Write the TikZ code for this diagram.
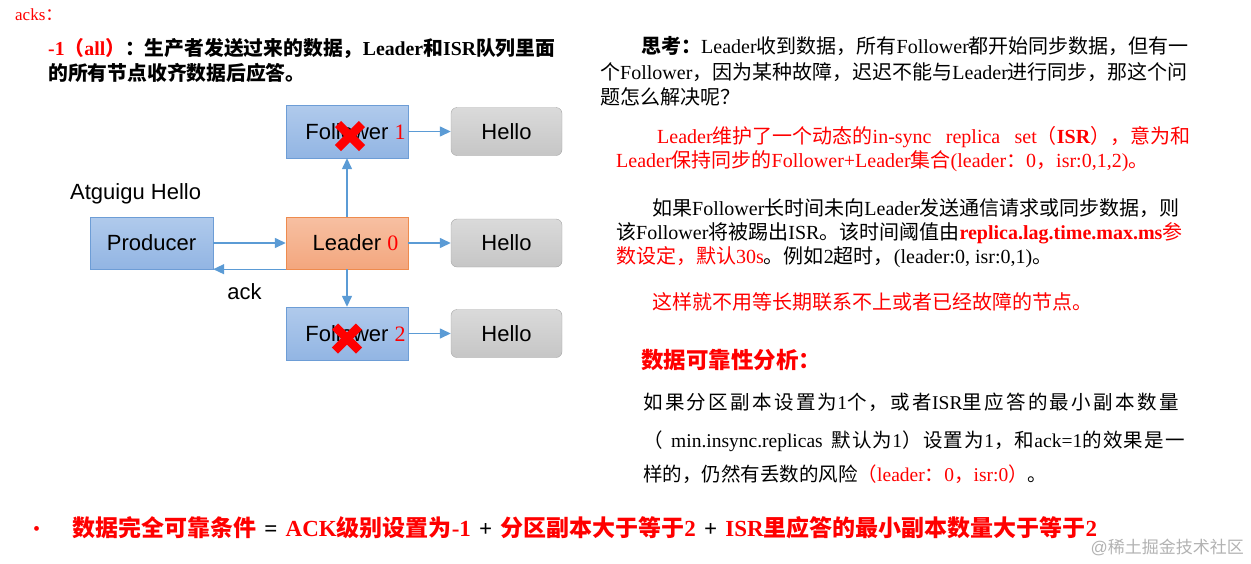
\documentclass[tikz,border=0pt]{standalone}
\usepackage{fontspec}
\setmainfont{Liberation Serif}
\setsansfont{Liberation Sans}
\newfontfamily\zhfont{Noto Sans CJK SC}
\newfontfamily\zhwide{Noto Sans CJK SC}[LetterSpace=12]
\newfontfamily\zhmid{Noto Sans CJK SC}[LetterSpace=7]
\usetikzlibrary{positioning, arrows.meta}

\definecolor{kred}{HTML}{FF0000}
\definecolor{linkblue}{HTML}{5B9BD5}
\definecolor{boxline}{HTML}{6D9DD6}
\definecolor{leadline}{HTML}{EE8B4E}
\definecolor{helloline}{HTML}{A5A5A5}

% CJK characters get their own font
\XeTeXinterchartokenstate=1
\newXeTeXintercharclass\zhclass
\count255="3000
\loop\ifnum\count255<"3040 \XeTeXcharclass\count255=\zhclass \advance\count255 by 1 \repeat
\count255="4E00
\loop\ifnum\count255<"A000 \XeTeXcharclass\count255=\zhclass \advance\count255 by 1 \repeat
\count255="FF00
\loop\ifnum\count255<"FFF0 \XeTeXcharclass\count255=\zhclass \advance\count255 by 1 \repeat
\XeTeXinterchartoks 0 \zhclass = {\begingroup\zhfont}
\XeTeXinterchartoks 4095 \zhclass = {\begingroup\zhfont}
\XeTeXinterchartoks \zhclass 0 = {\endgroup}
\XeTeXinterchartoks \zhclass 4095 = {\endgroup}

\newcommand\jline[2]{\makebox[#1][s]{#2}}
\newcommand\wideline[3]{{\let\zhfont#1\makebox[#2][s]{#3}}}

\begin{document}
\begin{tikzpicture}[x=1pt, y=-1pt,
    txt/.style={anchor=base west, inner sep=0pt, font=\fontsize{20}{24}\selectfont},
    lab/.style={font=\sffamily\fontsize{22}{26}\selectfont, inner sep=0pt},
    bluebox/.style={lab, draw=boxline, top color={rgb,255:red,176;green,202;blue,236}, bottom color={rgb,255:red,146;green,181;blue,227}, minimum width=122pt, minimum height=53pt},
    leadbox/.style={lab, draw=leadline, top color={rgb,255:red,247;green,192;blue,162}, bottom color={rgb,255:red,243;green,166;blue,126}, minimum width=122pt, minimum height=52pt},
    hellobox/.style={lab, draw=helloline, rounded corners=6pt, top color={rgb,255:red,218;green,218;blue,218}, bottom color={rgb,255:red,198;green,198;blue,198}, minimum width=111pt, minimum height=48pt},
    padl/.style={execute at begin node=\hspace*{17pt}},
    flow/.style={draw=linkblue, line width=1.4pt, -{Triangle[length=11pt, width=10pt]}},
    xmark/.style={draw=kred, line width=8.5pt}
  ]
  \useasboundingbox (0,0) rectangle (1251,563);

  % left part
  \node[txt, text=kred, font=\fontsize{17}{20}\selectfont] (acks) at (15,20) {acks：};
  \node[txt, font=\bfseries\fontsize{19.8}{24}\selectfont] (allA) at (48,55) {\jline{514pt}{{\color{kred}-1（all）}：生产者发送过来的数据，Leader和ISR队列里面}};
  \node[txt, font=\bfseries\fontsize{19.8}{24}\selectfont] (allB) at (48,80) {的所有节点收齐数据后应答。};

  \node[lab, anchor=base west] (atg) at (70,199) {Atguigu Hello};
  \node[bluebox, minimum width=123pt, minimum height=52pt] (prod) at (151.5,243) {Producer};
  \node[leadbox, padl] (lead) at (347,243) {Leader {\rmfamily\color{kred}0}};
  \node[bluebox, padl] (fol1) at (347,131.5) {Follower {\rmfamily\color{kred}1}};
  \node[bluebox, padl] (fol2) at (347,333.5) {Follower {\rmfamily\color{kred}2}};
  \node[hellobox] (h1) at (506.5,131.5) {Hello};
  \node[hellobox] (h2) at (506.5,243) {Hello};
  \node[hellobox] (h3) at (506.5,333.5) {Hello};

  \draw[flow] (prod) -- (lead);
  \draw[flow] (lead.south west) -- node[lab, midway, below=14pt, xshift=-5pt] (ackl) {ack} (prod.south east);
  \draw[flow] (lead) -- (fol1);
  \draw[flow] (lead) -- (fol2);
  \foreach \a/\b in {fol1/h1, lead/h2, fol2/h3}
    \draw[flow] (\a) -- (\b);

  \foreach \n/\cx/\cy in {fol1/3/4.5, fol2/0/5}{
    \draw[xmark] ([shift={(\cx-12,\cy-12)}]\n.center) -- ++(24,24);
    \draw[xmark] ([shift={(\cx+12,\cy-12)}]\n.center) -- ++(-24,24);
  }

  % right part
  \node[txt] (q1) at (641,53.5) {\jline{549pt}{{\bfseries 思考：}Leader收到数据，所有Follower都开始同步数据，但有一}};
  \node[txt] (q2) at (600,79) {\jline{590pt}{个Follower，因为某种故障，迟迟不能与Leader进行同步，那这个问}};
  \node[txt] (q3) at (600,104.5) {题怎么解决呢？};

  \node[txt, text=kred] (r1) at (657,143) {\jline{533pt}{Leader维护了一个动态的in-sync replica set（{\bfseries ISR}），意为和}};
  \node[txt, text=kred] (r2) at (616,167) {Leader保持同步的Follower+Leader集合(leader：0，isr:0,1,2)。};

  \node[txt] (s1) at (652,215) {\jline{523pt}{如果Follower长时间未向Leader发送通信请求或同步数据，则}};
  \node[txt] (s2) at (616,239) {\jline{564pt}{该Follower将被踢出ISR。该时间阈值由{\color{kred}{\bfseries replica.lag.time.max.ms}参}}};
  \node[txt] (s3) at (616,263) {{\color{kred}数设定，默认30s}。例如2超时，(leader:0, isr:0,1)。};

  \node[txt, text=kred] (t1) at (652,309) {这样就不用等长期联系不上或者已经故障的节点。};

  \node[txt, text=kred, font=\bfseries\fontsize{22.5}{27}\selectfont] (rel) at (641,368) {数据可靠性分析：};
  \node[txt, font=\fontsize{19.5}{24}\selectfont] (p1) at (643,409) {\wideline\zhwide{542pt}{如果分区副本设置为1个，或者ISR里应答的最小副本数量}};
  \node[txt, font=\fontsize{19.5}{24}\selectfont] (p2) at (643,447) {\wideline\zhmid{542pt}{（ min.insync.replicas 默认为1）设置为1，和ack=1的效果是一}};
  \node[txt, font=\fontsize{19.5}{24}\selectfont] (p3) at (643,481) {样的，仍然有丢数的风险{\color{kred}（leader：0，isr:0）}。};

  % bottom line
  \node[txt, text=kred, font=\fontsize{20}{24}\selectfont] (dot) at (33,535) {•};
  \node[txt, font=\bfseries\fontsize{23}{28}\selectfont] (rule) at (72,536) {\jline{1025pt}{{\color{kred}数据完全可靠条件} = {\color{kred}ACK级别设置为-1} + {\color{kred}分区副本大于等于2} + {\color{kred}ISR里应答的最小副本数量大于等于2}}};

  \node[anchor=base east, inner sep=0pt, text=black!30, font=\sffamily\fontsize{17}{20}\selectfont] (wm) at (1244,553) {@稀土掘金技术社区};
\end{tikzpicture}
\end{document}
